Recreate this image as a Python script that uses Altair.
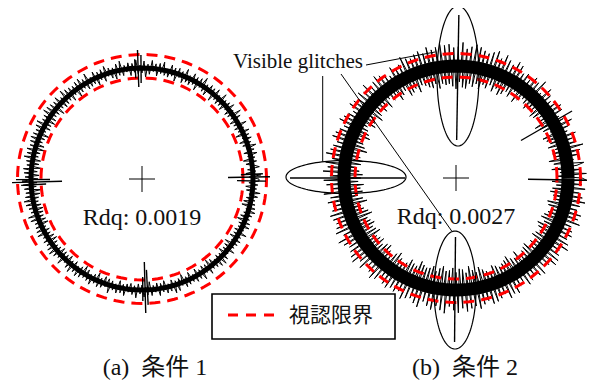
import altair as alt
import pandas as pd
import numpy as np

# ---------------- data ----------------
PANELS = ["a", "b"]
CENTER_X = [142, 456]
CENTER_Y = [179, 178]
LIMIT_R = [101, 124.5]          # visual-limit circles (dashed red)
BAND_R = [111, 112]             # mean radius of measured profile
BAND_CORE = [5, 13]             # solid core thickness of the profile band
MAGNIFICATION = [1.0, 0.88]     # plot magnification of the deviations

# measured radial deviations (1 deg steps, CCW from +x)
DEV_A = [6, -4, 8, -7, 3, -5, 7, 2, -6, 5, -8, 4, -3, 7, -6, 5, -2, 8, -5, 4,
         -7, 6, -3, 5, -8, 7, -4, 3, -6, 8, -5, 2, -7, 6, -4, 9, -5, 3, -6, 7,
         -3, 5, -7, 4, -5, 8, -6, 3, -4, 7, -8, 5, -2, 6, -7, 4, -5, 9, -3, 6,
         -8, 5, -4, 7, -6, 3, -5, 8, -7, 4, -3, 6, -8, 5, -4, 7, -6, 2, -5, 8,
         -4, 6, -7, 5, -3, 8, -6, 4, -9, 7, -5, 3, -6, 8, -4, 5, -7, 6, -3, 4,
         -6, 9, -5, 7, -8, 4, -6, 5, -3, 8, -7, 6, -4, 5, -8, 7, -5, 3, -6, 9,
         -7, 5, -4, 8, -6, 7, -9, 5, -4, 6, -8, 7, -5, 9, -6, 4, -7, 8, -5, 6,
         -9, 7, -6, 8, -5, 9, -7, 6, -8, 5, -6, 9, -7, 8, -4, 6, -9, 7, -6, 8,
         -5, 7, -8, 6, -9, 8, -6, 7, -5, 9, -8, 6, -7, 5, -9, 8, -6, 7, -8, 6,
         -7, 9, -6, 8, -5, 7, -9, 6, -8, 7, -6, 9, -5, 8, -7, 6, -8, 5, -7, 9,
         -6, 8, -7, 5, -8, 6, -4, 7, -6, 8, -5, 4, -7, 6, -8, 5, -6, 7, -4, 8,
         -5, 6, -7, 4, -6, 8, -5, 3, -7, 6, -4, 8, -6, 5, -3, 7, -5, 6, -8, 4,
         -6, 5, -3, 7, -5, 4, -8, 6, -4, 5, -7, 3, -6, 8, -5, 4, -3, 6, -7, 5,
         -4, 7, -5, 3, -6, 5, -4, 8, -6, 4, -5, 7, -3, 5, -8, 6, -4, 3, -6, 7,
         -5, 4, -7, 6, -3, 5, -6, 8, -4, 7, -5, 3, -8, 6, -4, 5, -7, 4, -3, 6,
         -7, 5, -4, 8, -6, 3, -5, 7, -8, 4, -6, 5, -3, 7, -5, 8, -4, 6, -7, 3,
         -5, 7, -6, 4, -8, 5, -3, 6, -7, 4, -5, 8, -6, 3, -4, 7, -5, 6, -8, 4,
         -6, 5, -4, 7, -3, 6, -8, 5, -7, 4, -5, 6, -3, 8, -6, 4, -7, 5, -4, 6]
DEV_B = [16, -12, 21, -9, 14, -18, 11, 19, -15, 8, -20, 13, -11, 17, -14, 22, -10, 15, -17, 12,
         -13, 18, -16, 10, -19, 14, -8, 20, -15, 12, -17, 9, -21, 16, -12, 18, -10, 14, -16, 11,
         -18, 15, -11, 20, -14, 9, -17, 22, -13, 16, -10, 19, -15, 12, -20, 17, -9, 14, -18, 21,
         -14, 23, -19, 17, -22, 20, -16, 24, -21, 18, -15, 25, -20, 22, -17, 19, -23, 21, -18, 24,
         -22, 26, -19, 23, -25, 20, -24, 27, -18, 22, -26, 21, -23, 25, -20, 24, -21, 26, -19, 23,
         -24, 21, -18, 25, -22, 19, -20, 23, -17, 21, -15, 18, -22, 20, -16, 24, -19, 17, -21, 15,
         -13, 19, -16, 11, -20, 14, -12, 18, -15, 21, -10, 17, -19, 13, -14, 22, -18, 16, -12, 20,
         -17, 14, -21, 18, -13, 20, -16, 12, -19, 15, -11, 18, -14, 21, -17, 13, -20, 16, -12, 19,
         -15, 21, -18, 14, -22, 17, -13, 19, -16, 23, -20, 15, -18, 22, -14, 19, -17, 24, -21, 16,
         -19, 23, -16, 20, -22, 15, -18, 24, -20, 17, -14, 21, -19, 16, -23, 18, -15, 22, -17, 20,
         -21, 18, -24, 20, -17, 23, -19, 16, -22, 25, -18, 21, -20, 17, -23, 19, -16, 22, -18, 24,
         -20, 17, -15, 22, -19, 14, -21, 18, -16, 23, -13, 20, -18, 15, -22, 19, -17, 21, -14, 18,
         -16, 20, -22, 17, -19, 24, -18, 21, -25, 19, -22, 23, -20, 26, -21, 18, -24, 22, -19, 25,
         -23, 20, -26, 24, -21, 27, -22, 19, -25, 23, -20, 26, -24, 21, -23, 25, -19, 22, -26, 20,
         -21, 24, -18, 20, -23, 17, -19, 22, -16, 21, -14, 19, -20, 16, -18, 23, -15, 20, -17, 22,
         -19, 16, -22, 13, -17, 20, -15, 18, -21, 14, -12, 19, -16, 21, -18, 15, -20, 17, -13, 23,
         -17, 22, -14, 19, -20, 16, -18, 24, -15, 21, -19, 17, -22, 20, -16, 18, -21, 15, -19, 23,
         -16, 19, -13, 21, -18, 15, -20, 17, -12, 22, -15, 18, -19, 14, -17, 20, -13, 16, -18, 21]

# glitches: (panel, angle deg, inner radius, outer radius)
GLITCH_PANEL = ["a"] * 12 + ["b"] * 5
GLITCH_ANG = [1.0, 359.0, 2.5, 92.0, 90.5, 93.5, 181.6, 180.3, 183.0, 271.6, 272.8, 270.4,
              89.0, 269.5, 180.0, 359.0, 30.0]
GLITCH_R1 = [86, 95, 99, 92, 96, 101, 80, 92, 96, 83, 91, 98,
             38, 59, 51, 72, 75]
GLITCH_R2 = [128, 124, 121, 129, 124, 120, 130, 126, 121, 134, 126, 122,
             163, 164, 166, 134, 134]

# annotation ellipses
ELL_CX = [458, 455, 346]
ELL_CY = [76, 290, 177]
ELL_RX = [21, 21, 60]
ELL_RY = [70, 59, 16.5]

# leader lines
LEAD_X1 = [366, 322.7, 341]
LEAD_Y1 = [65, 76, 74]
LEAD_X2 = [435, 322.7, 451.7]
LEAD_Y2 = [52, 161.5, 231]

CROSS = 13
RDQ = ["Rdq: 0.0019", "Rdq: 0.0027"]
CAPTIONS = ["(a)\u2002条件 1", "(b)\u2002条件 2"]
CAPTION_X = [155, 465]
LEGEND_LABEL = "視認限界"

# ---------------- tables ----------------
ANG = np.arange(0, 361, 3)

rows = []
for p, cx, cy in zip(PANELS, CENTER_X, CENTER_Y):
    for k, r in enumerate(LIMIT_R):
        for i, a in enumerate(ANG):
            rows.append(dict(id=f"{p}{k}", i=i, cx=cx, cy=cy, rx=r, ry=r, a=a))
limit_df = pd.DataFrame(rows)

rows = []
for p, cx, cy, r, w in zip(PANELS, CENTER_X, CENTER_Y, BAND_R, BAND_CORE):
    for i, a in enumerate(ANG):
        rows.append(dict(id=p, i=i, cx=cx, cy=cy, rx=r, ry=r, a=a, w=w))
core_df = pd.DataFrame(rows)

rows = []
for p, cx, cy, r0, dev, mag in zip(PANELS, CENTER_X, CENTER_Y, BAND_R,
                                   [DEV_A, DEV_B], MAGNIFICATION):
    n = len(dev)
    for i in range(n + 1):
        d = dev[i % n] * mag
        rows.append(dict(id=p, i=i, cx=cx, cy=cy, rx=r0 + d, ry=r0 + d, a=i * 360.0 / n))
trace_df = pd.DataFrame(rows)

rows = []
for k, (ex, ey, erx, ery) in enumerate(zip(ELL_CX, ELL_CY, ELL_RX, ELL_RY)):
    for i, a in enumerate(ANG):
        rows.append(dict(id=f"e{k}", i=i, cx=ex, cy=ey, rx=erx, ry=ery, a=a))
ell_df = pd.DataFrame(rows)

cmap = dict(zip(PANELS, zip(CENTER_X, CENTER_Y)))
gl_df = pd.DataFrame(dict(p=GLITCH_PANEL, a=GLITCH_ANG, r1=GLITCH_R1, r2=GLITCH_R2))
gl_df["cx"] = [cmap[p][0] for p in gl_df.p]
gl_df["cy"] = [cmap[p][1] for p in gl_df.p]

seg_rows = []
for cx, cy in zip(CENTER_X, CENTER_Y):
    seg_rows.append(dict(x=cx - CROSS, y=cy, x2=cx + CROSS, y2=cy))
    seg_rows.append(dict(x=cx, y=cy - CROSS, x2=cx, y2=cy + CROSS))
for x1, y1, x2, y2 in zip(LEAD_X1, LEAD_Y1, LEAD_X2, LEAD_Y2):
    seg_rows.append(dict(x=x1, y=y1, x2=x2, y2=y2))
seg_df = pd.DataFrame(seg_rows)

# ---------------- encodings ----------------
XS = alt.Scale(domain=[8, 587])
YS = alt.Scale(domain=[8, 380], reverse=True)


def X(f):
    return alt.X(f, type="quantitative", scale=XS, axis=None)


def Y(f):
    return alt.Y(f, type="quantitative", scale=YS, axis=None)


def polar(chart):
    return chart.transform_calculate(
        px="datum.cx + datum.rx * cos(datum.a * PI / 180)",
        py="datum.cy - datum.ry * sin(datum.a * PI / 180)",
    )


def curve_enc(ch):
    return ch.encode(x=X("px"), y=Y("py"), detail="id:N", order="i:Q")


core = curve_enc(polar(alt.Chart(core_df).mark_line(color="black")).encode(
    strokeWidth=alt.StrokeWidth("w:Q", scale=None)))
trace = curve_enc(polar(alt.Chart(trace_df).mark_line(color="black", strokeWidth=1)))
limits = curve_enc(polar(alt.Chart(limit_df).mark_line(
    color="#ff0000", strokeWidth=3, strokeDash=[11, 7])))
ellipses = curve_enc(polar(alt.Chart(ell_df).mark_line(color="black", strokeWidth=1.2)))

glitch = alt.Chart(gl_df).transform_calculate(
    gx="datum.cx + datum.r1 * cos(datum.a * PI / 180)",
    gy="datum.cy - datum.r1 * sin(datum.a * PI / 180)",
    gx2="datum.cx + datum.r2 * cos(datum.a * PI / 180)",
    gy2="datum.cy - datum.r2 * sin(datum.a * PI / 180)",
).mark_rule(color="black", strokeWidth=1.4).encode(
    x=X("gx"), y=Y("gy"), x2="gx2:Q", y2="gy2:Q")

segs = alt.Chart(seg_df).mark_rule(color="black", strokeWidth=1).encode(
    x=X("x"), y=Y("y"), x2="x2:Q", y2="y2:Q")

legend_box = alt.Chart(pd.DataFrame(dict(x=[212], x2=[395], y=[294], y2=[339]))).mark_rect(
    fill="white", stroke="black", strokeWidth=1.6).encode(
    x=X("x"), x2="x2:Q", y=Y("y"), y2="y2:Q")
legend_dash = alt.Chart(pd.DataFrame(dict(x=[228], x2=[274], y=[315]))).mark_rule(
    color="#ff0000", strokeWidth=3, strokeDash=[10, 8]).encode(
    x=X("x"), x2="x2:Q", y=Y("y"))
legend_text = alt.Chart(pd.DataFrame(dict(x=[289], y=[316], t=[LEGEND_LABEL]))).mark_text(
    font="Noto Sans CJK JP", fontSize=21, align="left", baseline="middle", color="#111").encode(
    x=X("x"), y=Y("y"), text="t:N")

rdq = alt.Chart(pd.DataFrame(dict(x=CENTER_X, y=[218, 217], t=RDQ))).mark_text(
    font="Liberation Serif", fontSize=24, align="center", baseline="middle", color="#111").encode(
    x=X("x"), y=Y("y"), text="t:N")

vis = alt.Chart(pd.DataFrame(dict(x=[233], y=[62], t=["Visible glitches"]))).mark_text(
    font="Liberation Serif", fontSize=21, align="left", baseline="middle", color="#111").encode(
    x=X("x"), y=Y("y"), text="t:N")

caps = alt.Chart(pd.DataFrame(dict(x=CAPTION_X, y=[375, 375], t=CAPTIONS))).mark_text(
    font="Liberation Serif, Noto Sans CJK JP", fontSize=24, align="center",
    baseline="alphabetic", color="#111").encode(
    x=X("x"), y=Y("y"), text="t:N")

chart = alt.layer(
    core, trace, limits, glitch, ellipses, segs,
    legend_box, legend_dash, legend_text, rdq, vis, caps,
).properties(
    width=579, height=372, padding=0,
    autosize=alt.AutoSizeParams(type="none"),
).configure_view(stroke=None)

chart.save("out.html", embed_options={"renderer": "svg", "actions": False})
